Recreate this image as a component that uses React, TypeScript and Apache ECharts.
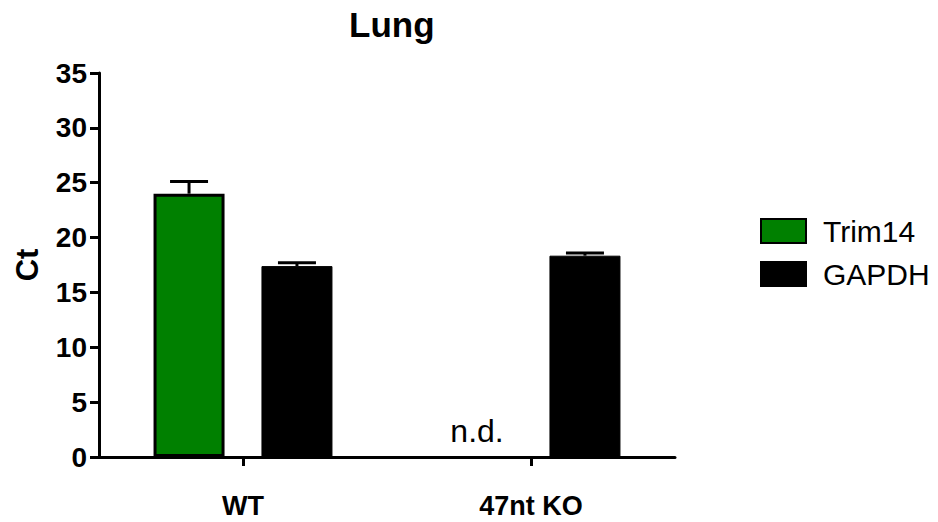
import React, { useEffect, useRef } from "react";
import * as echarts from "echarts";

const categories = ["WT", "47nt KO"];
const trim14Values: (number | null)[] = [24.0, null];
const trim14Errors: (number | null)[] = [1.1, null];
const gapdhValues = [17.4, 18.35];
const gapdhErrors = [0.3, 0.25];
const yTicks = { min: 0, max: 35, interval: 5 };

const FONT = "Liberation Sans, Arial, Helvetica, sans-serif";
const BAR_WIDTH = 71;
const BAR_GAP = 0.52;
const CAP = 38;

export default function App() {
  const ref = useRef<HTMLDivElement>(null);
  useEffect(() => {
    if (!ref.current) return;
    const chart = echarts.init(ref.current, undefined, { renderer: "svg" });
    const offset = (BAR_WIDTH * (1 + BAR_GAP)) / 2;
    const errData: number[][] = [];
    trim14Values.forEach((v, i) => {
      if (v != null && trim14Errors[i] != null) errData.push([i, v, trim14Errors[i] as number, -1]);
    });
    gapdhValues.forEach((v, i) => errData.push([i, v, gapdhErrors[i], 1]));

    chart.setOption({
      animation: false,
      title: {
        text: "Lung",
        left: 344,
        top: 2,
        textStyle: { fontFamily: FONT, fontSize: 35, fontWeight: "bold", color: "#000" },
      },
      legend: {
        orient: "vertical",
        left: 755,
        top: 211,
        icon: "rect",
        itemWidth: 45,
        itemHeight: 24,
        itemGap: 13,
        data: ["Trim14", "GAPDH"],
        textStyle: { fontFamily: FONT, fontSize: 30, color: "#000", padding: [0, 0, 0, 12] },
      },
      grid: { left: 99, right: 263, top: 73, bottom: 65 },
      xAxis: {
        type: "category",
        data: categories,
        axisLine: { lineStyle: { color: "#000", width: 3 } },
        axisTick: { show: true, alignWithLabel: true, length: 9, lineStyle: { color: "#000", width: 3 } },
        axisLabel: { fontFamily: FONT, fontSize: 27, fontWeight: "bold", color: "#000", margin: 35 },
      },
      yAxis: {
        type: "value",
        min: yTicks.min,
        max: yTicks.max,
        interval: yTicks.interval,
        name: "Ct",
        nameLocation: "middle",
        nameRotate: 90,
        nameGap: 56,
        nameTextStyle: { fontFamily: FONT, fontSize: 31, fontWeight: "bold", color: "#000" },
        splitLine: { show: false },
        axisLine: { show: true, lineStyle: { color: "#000", width: 3 } },
        axisTick: { show: true, length: 9, lineStyle: { color: "#000", width: 3 } },
        axisLabel: { fontFamily: FONT, fontSize: 28, fontWeight: "bold", color: "#000", margin: 12 },
      },
      series: [
        {
          name: "Trim14",
          type: "bar",
          barWidth: BAR_WIDTH,
          barGap: BAR_GAP * 100 + "%",
          itemStyle: { color: "#008000", borderColor: "#000", borderWidth: 3 },
          data: trim14Values.map((v) =>
            v == null
              ? {
                  value: 0,
                  itemStyle: { borderWidth: 0 },
                  label: {
                    show: true,
                    position: "top",
                    distance: 10,
                    formatter: "n.d.",
                    fontFamily: FONT,
                    fontSize: 32,
                    color: "#000",
                  },
                }
              : v
          ),
        },
        {
          name: "GAPDH",
          type: "bar",
          barWidth: BAR_WIDTH,
          itemStyle: { color: "#000", borderColor: "#000", borderWidth: 1 },
          data: gapdhValues,
        },
        {
          type: "custom",
          z: 5,
          data: errData,
          encode: { x: 0, y: 1 },
          renderItem: (params: any, api: any) => {
            const base = api.coord([api.value(0), api.value(1)]);
            const top = api.coord([api.value(0), api.value(1) + api.value(2)]);
            const x = base[0] + api.value(3) * offset;
            const style = { stroke: "#000", lineWidth: 3 };
            return {
              type: "group",
              children: [
                { type: "line", shape: { x1: x, y1: base[1], x2: x, y2: top[1] }, style },
                { type: "line", shape: { x1: x - CAP / 2, y1: top[1], x2: x + CAP / 2, y2: top[1] }, style },
              ],
            };
          },
        },
      ],
    });
    return () => chart.dispose();
  }, []);
  return <div ref={ref} style={{ position: "absolute", left: 0, top: 0, width: 938, height: 522 }} />;
}
